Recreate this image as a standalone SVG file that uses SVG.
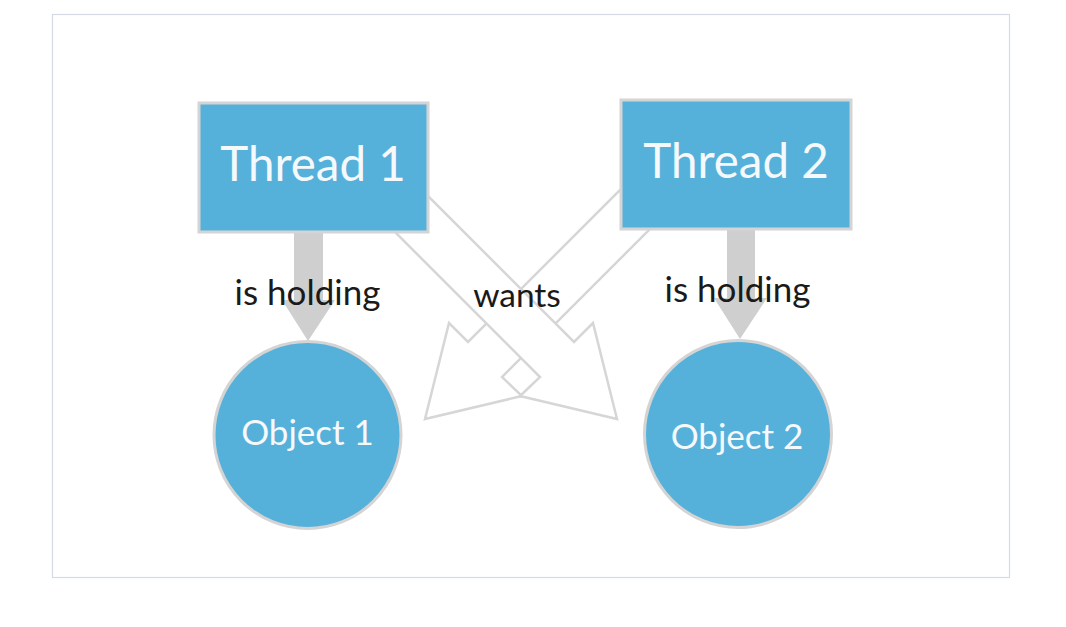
<svg xmlns="http://www.w3.org/2000/svg" width="1066" height="627" viewBox="0 0 1066 627">
<style>
.frame{fill:#ffffff;stroke:#d5dae5;stroke-width:1.2}
.node{fill:#56b1da;stroke:#d4d4d4;stroke-width:3}
.hollow{fill:#ffffff;stroke:#d6d6d6;stroke-width:2.5;stroke-linejoin:miter}
.fat{fill:#cfcfcf;stroke:none}
.ntext{font-family:Lato,"Open Sans",sans-serif;fill:#f5f9fc;text-anchor:middle}
.ltext{font-family:Lato,"Open Sans",sans-serif;fill:#1a1a1a;text-anchor:middle}
</style>
<rect class="frame" x="52.5" y="14.5" width="957" height="563"/>
<g id="connectors">
  <polygon id="t2-wants-o1" class="hollow" points="662,148 468,342 449,323 425,419 522,396 502,377 696.5,182.5"/>
  <polygon id="t1-wants-o2" class="hollow" points="380,148 574,342 593,323 617,419 520,396 540,377 345.5,182.5"/>
  <polygon id="t1-holds-o1" class="fat" points="294,230 323,230 323,300 335,300 308,341 282,300 294,300"/>
  <polygon id="t2-holds-o2" class="fat" points="727,227 755,227 755,298 767,298 740,339 714,298 727,298"/>
</g>
<g id="thread1">
  <rect class="node" x="199" y="103" width="229" height="129"/>
  <text class="ntext" x="313" y="181" font-size="47.5">Thread 1</text>
</g>
<g id="thread2">
  <rect class="node" x="621" y="100" width="230" height="129"/>
  <text class="ntext" x="736" y="178" font-size="47.5">Thread 2</text>
</g>
<g id="object1">
  <circle class="node" cx="307.5" cy="435" r="93.5"/>
  <text class="ntext" x="307.5" y="445" font-size="35">Object 1</text>
</g>
<g id="object2">
  <circle class="node" cx="738" cy="434" r="93.5"/>
  <text class="ntext" x="737" y="449" font-size="35">Object 2</text>
</g>
<g id="labels">
  <text class="ltext" x="307.5" y="305" font-size="35">is holding</text>
  <text class="ltext" x="737.5" y="302" font-size="35">is holding</text>
  <text class="ltext" x="517" y="307" font-size="33.5">wants</text>
</g>
</svg>
